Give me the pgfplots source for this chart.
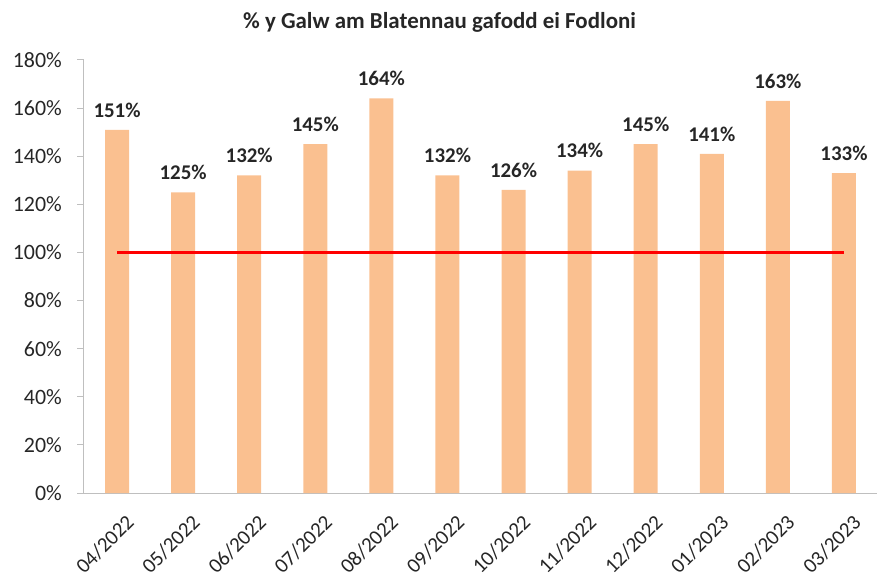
\documentclass[border=0pt]{standalone}
\usepackage{pgfplots}
\pgfplotsset{compat=1.18}
\usepackage{fontspec}
\setmainfont{Carlito}
\usetikzlibrary{calc}
\definecolor{barc}{HTML}{FAC090}
\definecolor{axc}{HTML}{BFBFBF}
\begin{document}
\begin{tikzpicture}
\begin{axis}[
  scale only axis, width=793bp, height=433bp,
  xmin=-0.5, xmax=11.5, ymin=0, ymax=180,
  axis x line*=bottom, axis y line*=left,
  axis line style={axc, line width=1bp},
  xtick={0,...,11},
  xticklabels={04/2022,05/2022,06/2022,07/2022,08/2022,09/2022,10/2022,11/2022,12/2022,01/2023,02/2023,03/2023},
  minor xtick={-0.5,0.5,...,11.5},
  ytick={0,20,...,180},
  yticklabels={0\%,20\%,40\%,60\%,80\%,100\%,120\%,140\%,160\%,180\%},
  tick style={axc, line width=1bp},
  tick align=outside,
  xtick style={draw=none},
  minor tick length=7bp,
  major tick length=7bp,
  ticklabel style={font=\fontsize{22}{24}\selectfont, text=black!85},
  xticklabel style={font=\fontsize{21}{24}\selectfont, rotate=45, anchor=north east, inner sep=0pt, xshift=-4bp, yshift=-15bp},
  yticklabel style={inner sep=0pt, xshift=-15bp},
  clip=false,
]
\addplot[ybar, bar width=24bp, bar shift=0pt, fill=barc, draw=none,
  nodes near coords={\textbf{\pgfmathprintnumber[assume math mode=true]{\pgfplotspointmeta}\%}},
  every node near coord/.append style={font=\fontsize{21}{24}\selectfont, text=black!85, yshift=9bp}]
  coordinates {(0,151) (1,125) (2,132) (3,145) (4,164) (5,132) (6,126) (7,134) (8,145) (9,141) (10,163) (11,133)};
\addplot[red, line width=3bp, mark=none] coordinates {(0,100) (11,100)};
\node[font=\bfseries\fontsize{23}{26}\selectfont, text=black!85, xshift=-41bp, yshift=38bp] at (rel axis cs:0.5,1) {\% y Galw am Blatennau gafodd ei Fodloni};
\coordinate (bl) at (rel axis cs:0,0);
\coordinate (tr) at (rel axis cs:1,1);
\end{axis}
\pgfresetboundingbox
\path[use as bounding box] ($(bl)+(-84bp,-88bp)$) rectangle ($(tr)+(1bp,60bp)$);
\end{tikzpicture}
\end{document}
